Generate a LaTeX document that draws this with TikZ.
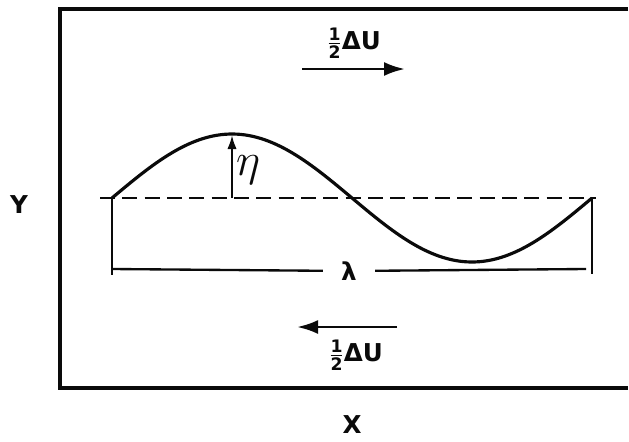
\documentclass[tikz,border=0pt]{standalone}
\usepackage{amsmath}
\usepackage{fontspec}
\setmainfont{DejaVu Sans}
\usepackage{xcolor}
\definecolor{inkblack}{RGB}{10, 10, 10}
\usepackage{tikz}
\usetikzlibrary{arrows.meta, positioning, calc}

\begin{document}
\begin{tikzpicture}[x=0.03cm, y=-0.03cm, >={Latex[length=6.3mm, width=4.2mm]}, line width=2pt, inkblack,
    every node/.style={font=\fontsize{21}{24}\selectfont\bfseries, inkblack}]
    \useasboundingbox (0,0) rectangle (629,441);
    % frame, open on the right
    \draw[line width=2.8pt] (628,9) -- (60,9) -- (60,388) -- (628,388);
    % mean level and the wave
    \coordinate (WL) at (112,198);
    \coordinate (WR) at (592,198);
    \draw[dash pattern=on 4.5mm off 2.2mm] (100,198) -- (596,198);
    \draw[line width=2.7pt, domain=112:592, samples=120, smooth] plot (\x, {198 - 64*sin(0.75*(\x-112))});
    % amplitude
    \coordinate (C) at (232,135);
    \coordinate (CF) at (232,198);
    \draw[-{Latex[length=4.2mm, width=2.8mm]}] (CF) -- (C);
    \node[scale=1.9] (eta) at (248,170) {$\eta$};
    % wavelength
    \coordinate (LL) at (112,275);
    \coordinate (LR) at (592,274);
    \draw (WL) -- (LL);
    \draw (WR) -- (LR);
    \coordinate (LA) at (112,269);
    \coordinate (LB) at (586,269);
    \node[minimum width=1.5cm] (lam) at (349,271) {λ};
    \draw (LA) -- (lam);
    \draw (lam) -- (LB);
    % shear velocities
    \coordinate (TA) at (302,69);
    \coordinate (TB) at (405,69);
    \draw[->, line width=2.5pt] (TA) -- (TB);
    \node (topU) at (354,43) {$\frac{\text{1}}{\text{2}}$ΔU};
    \coordinate (BA) at (397,327);
    \coordinate (BB) at (297,327);
    \draw[->, line width=2.5pt] (BA) -- (BB);
    \node (botU) at (356,355) {$\frac{\text{1}}{\text{2}}$ΔU};
    % axes
    \node (Y) at (19,205) {Y};
    \node[inner sep=0pt] (X) at (352,425) {X};
\end{tikzpicture}
\end{document}
